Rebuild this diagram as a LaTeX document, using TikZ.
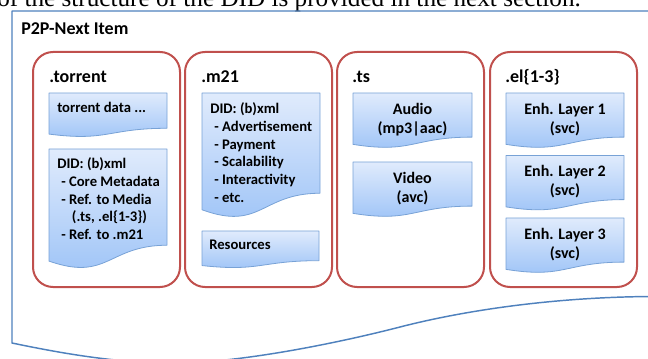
\documentclass[tikz,border=0pt]{standalone}
\usepackage{fontspec}
\setmainfont{Carlito}
\newfontfamily\pagefont{Liberation Serif}

\definecolor{itemblue}{RGB}{79,129,189}
\definecolor{filered}{RGB}{192,80,77}
\definecolor{docedge}{RGB}{120,162,214}
\definecolor{doctop}{RGB}{224,235,252}
\definecolor{docbot}{RGB}{155,194,247}

% document shape: left x, top y, right x, full height
\newcommand{\docpart}[4]{%
  \path[docshape] ({#1},{#2}) -- ({#3},{#2}) -- ({#3},{#2+0.802*#4})
    .. controls ({(#1+#3)/2},{#2+0.802*#4}) and ({(#1+#3)/2},{#2+1.107*#4})
    .. ({#1},{#2+0.934*#4}) -- cycle;}

\begin{document}
\begin{tikzpicture}
[x=0.75pt,y=-0.75pt,line join=round,%
  every node/.style={inner sep=0pt},%
  filebox/.style={draw=filered,line width=1.5pt,rounded corners=15pt},%
  docshape/.style={draw=docedge,line width=0.6pt,top color=doctop,bottom color=docbot},%
  itemshape/.style={draw=itemblue,line width=1.1pt},%
  filetitle/.style={font=\bfseries\fontsize{13.5}{16}\selectfont,anchor=base west},%
  doctext/.style={font=\bfseries\fontsize{11}{13.3}\selectfont,align=left,anchor=north west},%
  partext/.style={font=\bfseries\fontsize{12}{14}\selectfont,align=center,anchor=north}]
\useasboundingbox (0,0) rectangle (648,359);
\begin{scope}
\clip (0,0) rectangle (648,359);
\node[font=\pagefont\fontsize{18.9}{22}\selectfont,anchor=base west] (pageline) at (-3,7)
  {of the structure of the DID is provided in the next section.};

\draw[itemshape] (652,11) -- (12,11) -- (12,343)
  .. controls (60,353) and (120,364) .. (180,363)
  .. controls (240,362) and (330,345) .. (400,327)
  .. controls (470,309) and (560,297) .. (652,296.5);
\end{scope}
\node[font=\bfseries\fontsize{13.5}{16}\selectfont,anchor=base west] (item) at (21,34.5) {P2P-Next Item};

\draw[filebox] (33,52) rectangle (180,287);
\draw[filebox] (185,52) rectangle (332,287);
\draw[filebox] (337,52) rectangle (484,287);
\draw[filebox] (490,52) rectangle (637,287);

\node[filetitle] (torrent) at (49,83) {.torrent};
\node[filetitle] (m21) at (201,83) {.m21};
\node[filetitle] (ts) at (352,83) {.ts};
\node[filetitle] (el) at (505,83) {.el\{1-3\}};

\docpart{49}{93}{167}{44}
\docpart{49}{149}{167}{120}
\docpart{202}{93}{320}{125}
\docpart{202}{231}{319}{37}
\docpart{353}{93}{472}{55}
\docpart{353}{162}{472}{55}
\foreach \ytop in {93,155.5,218}
  {\docpart{506}{\ytop}{624}{55}}

\node[doctext,anchor=west] (tdata) at (57,107) {torrent data ...};
\node[doctext] (tdid) at (57,157.5)
  {DID: (b)xml\\
   \hspace*{3pt}- Core Metadata\\
   \hspace*{3pt}- Ref. to Media\\
   \hspace*{11pt}(.ts, .el\{1-3\})\\
   \hspace*{3pt}- Ref. to .m21};
\node[doctext] (mdid) at (210,102.5)
  {DID: (b)xml\\
   \hspace*{3pt}- Advertisement\\
   \hspace*{3pt}- Payment\\
   \hspace*{3pt}- Scalability\\
   \hspace*{3pt}- Interactivity\\
   \hspace*{3pt}- etc.};
\node[doctext,anchor=west] (res) at (209,244.5) {Resources};

\node[partext] (audio) at (412.5,103) {Audio\\(mp3|aac)};
\node[partext] (video) at (412.5,172) {Video\\(avc)};
\node[partext] (enh1) at (565,103) {Enh. Layer 1\\(svc)};
\node[partext] (enh2) at (565,165.5) {Enh. Layer 2\\(svc)};
\node[partext] (enh3) at (565,228) {Enh. Layer 3\\(svc)};
\end{tikzpicture}
\end{document}
